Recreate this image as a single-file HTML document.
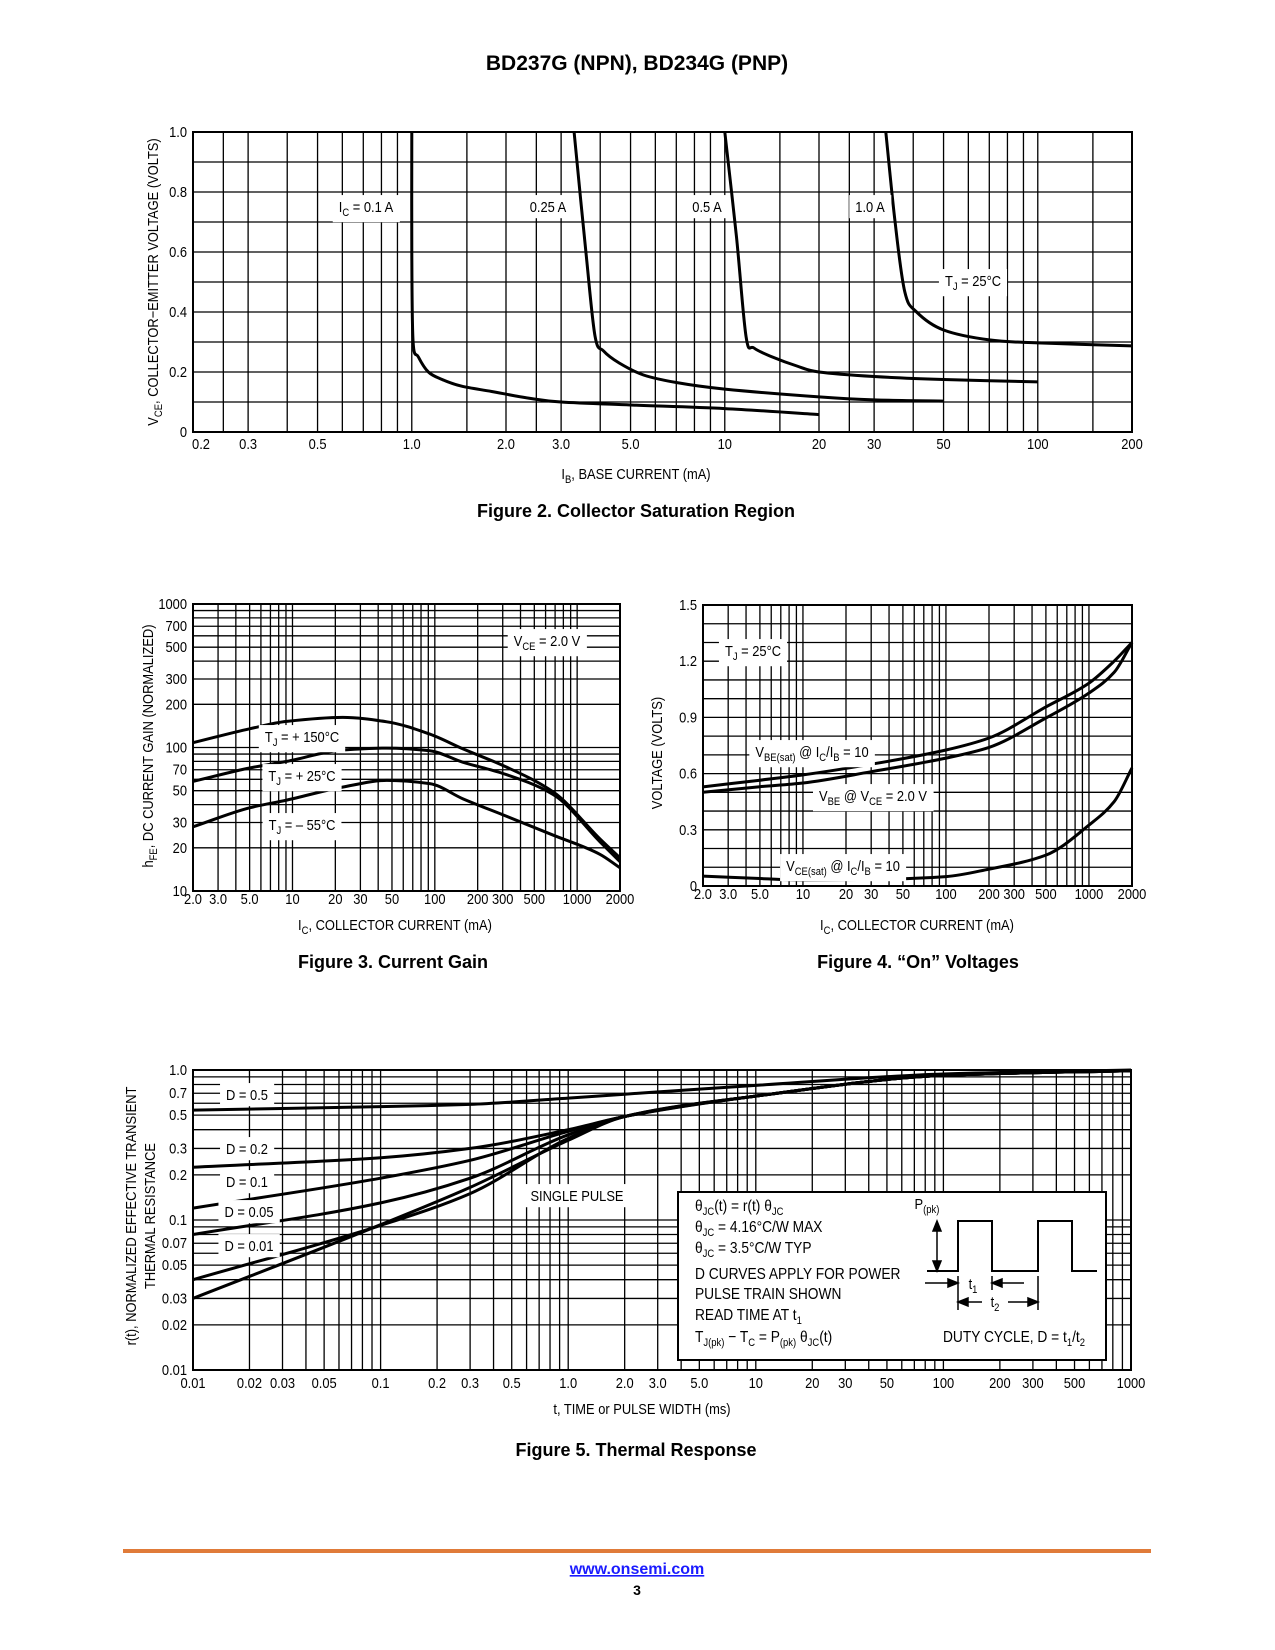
<!DOCTYPE html>
<html><head><meta charset="utf-8">
<style>
html,body{margin:0;padding:0;background:#fff;}
body{width:1275px;height:1650px;position:relative;overflow:hidden;}
svg{position:absolute;left:0;top:0;}
text{font-family:"Liberation Sans Narrow","Liberation Sans",sans-serif;fill:#000;}
.b{font-family:"Liberation Sans",sans-serif;font-weight:bold;}
</style></head>
<body>
<svg id="page" width="1275" height="1650" viewBox="0 0 1275 1650">
<text class="b" x="637" y="70" font-size="21" text-anchor="middle">BD237G (NPN), BD234G (PNP)</text>
<line x1="123" y1="1551" x2="1151" y2="1551" stroke="#e07b39" stroke-width="4"/>
<a><text class="b" x="637" y="1574" font-size="16" text-anchor="middle" fill="#1a1aff" style="fill:#1a1aff" text-decoration="underline">www.onsemi.com</text></a>
<text class="b" x="637" y="1595" font-size="14" text-anchor="middle">3</text>
</svg>
<script>
// ---------- Figure 2 data ----------
const f2XTicks=[0.2,0.3,0.5,1.0,2.0,3.0,5.0,10,20,30,50,100,200];
const f2XTickText=["0.2","0.3","0.5","1.0","2.0","3.0","5.0","10","20","30","50","100","200"];
const f2YTicks=[0,0.2,0.4,0.6,0.8,1.0];
const f2YTickText=["0","0.2","0.4","0.6","0.8","1.0"];
const f2IbA=[1.0,1.0,1.01,1.05,1.13,1.25,1.44,1.8,2.36,3,5,10,20];
const f2VA=[1.0,0.6,0.3,0.25,0.2,0.175,0.153,0.135,0.113,0.10,0.09,0.078,0.058];
const f2IbB=[3.3,3.6,3.85,4.1,4.6,5.5,7,10,20,30,50];
const f2VB=[1.0,0.6,0.32,0.27,0.23,0.19,0.165,0.143,0.117,0.107,0.103];
const f2IbC=[10,10.9,11.7,12.4,14.2,17,20,30,50,100];
const f2VC=[1.0,0.65,0.317,0.28,0.25,0.22,0.2,0.185,0.175,0.167];
const f2IbD=[32.7,35,37.6,41,50,70,100,200];
const f2VD=[1.0,0.7,0.467,0.4,0.34,0.307,0.297,0.287];
// ---------- Figure 3 data ----------
const f3XTicks=[2,3,5,10,20,30,50,100,200,300,500,1000,2000];
const f3XTickText=["2.0","3.0","5.0","10","20","30","50","100","200","300","500","1000","2000"];
const f3YTicks=[10,20,30,50,70,100,200,300,500,700,1000];
const f3YTickText=["10","20","30","50","70","100","200","300","500","700","1000"];
const f3Ic=[2,5,9.1,22.5,46,92,157,300,680,1450,2000];
const f3H150=[108,135,152,162,151,124,98,75,49,23,17];
const f3H25=[58,72,80,96,99,95,79,66,47,22,16];
const f3Hm55=[28,38,43,53,59,56,44,34,24.5,18,14.5];
// ---------- Figure 4 data ----------
const f4XTicks=[2,3,5,10,20,30,50,100,200,300,500,1000,2000];
const f4XTickText=["2.0","3.0","5.0","10","20","30","50","100","200","300","500","1000","2000"];
const f4YTicks=[0,0.3,0.6,0.9,1.2,1.5];
const f4YTickText=["0","0.3","0.6","0.9","1.2","1.5"];
const f4Ic=[2,5,10,30,100,200,500,1000,1500,2000];
const f4VbeSat=[0.529,0.565,0.593,0.65,0.726,0.79,0.956,1.083,1.2,1.30];
const f4Vbe=[0.50,0.53,0.55,0.61,0.683,0.74,0.897,1.03,1.14,1.30];
const f4VceSat=[0.053,0.04,0.032,0.035,0.05,0.09,0.165,0.325,0.45,0.63];
// ---------- Figure 5 data ----------
const f5XTicks=[0.01,0.02,0.03,0.05,0.1,0.2,0.3,0.5,1,2,3,5,10,20,30,50,100,200,300,500,1000];
const f5XTickText=["0.01","0.02","0.03","0.05","0.1","0.2","0.3","0.5","1.0","2.0","3.0","5.0","10","20","30","50","100","200","300","500","1000"];
const f5YTicks=[0.01,0.02,0.03,0.05,0.07,0.1,0.2,0.3,0.5,0.7,1.0];
const f5YTickText=["0.01","0.02","0.03","0.05","0.07","0.1","0.2","0.3","0.5","0.7","1.0"];
const f5T=[0.01,0.1,0.3,1,2,10,100,1000];
const f5D05=[0.54,0.57,0.59,0.65,0.69,0.79,0.94,1.0];
const f5D02=[0.225,0.26,0.30,0.40,0.49,0.67,0.92,0.99];
const f5D01=[0.12,0.19,0.25,0.39,0.49,0.67,0.92,0.99];
const f5D005=[0.08,0.13,0.19,0.37,0.49,0.67,0.92,0.99];
const f5D001=[0.04,0.092,0.15,0.35,0.49,0.67,0.92,0.99];
const f5Single=[0.03,0.093,0.165,0.34,0.49,0.67,0.92,0.99];

const NS="http://www.w3.org/2000/svg";
const svg=document.getElementById('page');
const SX=0.86;
function mk(tag,attrs,parent){const e=document.createElementNS(NS,tag);for(const k in attrs)e.setAttribute(k,attrs[k]);(parent||svg).appendChild(e);return e;}
function logScale(p0,p1,a,b){const la=Math.log10(a),lb=Math.log10(b);return v=>p0+(p1-p0)*(Math.log10(v)-la)/(lb-la);}
function linScale(p0,p1,a,b){return v=>p0+(p1-p0)*(v-a)/(b-a);}
function logGrid(min,max,mants){const out=[];for(let e=Math.floor(Math.log10(min))-1;e<=Math.ceil(Math.log10(max));e++){for(const m of mants){const v=parseFloat((m*Math.pow(10,e)).toPrecision(6));if(v>min*1.0001&&v<max*0.9999)out.push(v);}}return out;}
function linGrid(min,max,step){const out=[];for(let v=min+step;v<max-step/2;v+=step)out.push(v);return out;}
function catmull(pts){let d="M"+pts[0][0].toFixed(1)+" "+pts[0][1].toFixed(1);for(let i=0;i<pts.length-1;i++){const p0=pts[Math.max(0,i-1)],p1=pts[i],p2=pts[i+1],p3=pts[Math.min(pts.length-1,i+2)];const c1=[p1[0]+(p2[0]-p0[0])/6,p1[1]+(p2[1]-p0[1])/6],c2=[p2[0]-(p3[0]-p1[0])/6,p2[1]-(p3[1]-p1[1])/6];d+=" C"+c1[0].toFixed(1)+" "+c1[1].toFixed(1)+" "+c2[0].toFixed(1)+" "+c2[1].toFixed(1)+" "+p2[0].toFixed(1)+" "+p2[1].toFixed(1);}return d;}
function monotone(pts){const n=pts.length;const dl=[];for(let i=0;i<n-1;i++)dl.push((pts[i+1][1]-pts[i][1])/(pts[i+1][0]-pts[i][0]));
const m=[dl[0]];for(let i=1;i<n-1;i++){if(dl[i-1]*dl[i]<=0)m.push(0);else{const h0=pts[i][0]-pts[i-1][0],h1=pts[i+1][0]-pts[i][0];const w1=2*h1+h0,w2=h1+2*h0;m.push((w1+w2)/(w1/dl[i-1]+w2/dl[i]));}}m.push(dl[n-2]);
let d="M"+pts[0][0].toFixed(1)+" "+pts[0][1].toFixed(1);for(let i=0;i<n-1;i++){const h=(pts[i+1][0]-pts[i][0])/3;d+=" C"+(pts[i][0]+h).toFixed(1)+" "+(pts[i][1]+m[i]*h).toFixed(1)+" "+(pts[i+1][0]-h).toFixed(1)+" "+(pts[i+1][1]-m[i+1]*h).toFixed(1)+" "+pts[i+1][0].toFixed(1)+" "+pts[i+1][1].toFixed(1);}return d;}
function sub(a){return '<tspan dy="4" font-size="11">'+a+'</tspan><tspan dy="-4">';}
function squeeze(x,y){return 'translate('+x+' '+y+') scale('+SX+' 1) translate('+(-x)+' '+(-y)+')';}
function txt(g,x,y,html,anchor,size){const t=mk('text',{x:x,y:y,'text-anchor':anchor||'middle','font-size':size||15,transform:squeeze(x,y)},g);t.innerHTML=html;return t;}
function vtxt(g,x,y,html){const t=mk('text',{x:x,y:y,'text-anchor':'middle','font-size':15,transform:'rotate(-90 '+x+' '+y+') '+squeeze(x,y)},g);t.innerHTML=html;return t;}
function boxLabel(g,x,y,html,name){const r=mk('rect',{fill:'#fff',transform:squeeze(x,y)},g);

const t=txt(g,x,y,html,'middle',15);

const bb=t.getBBox();r.setAttribute('x',bb.x-7);r.setAttribute('y',bb.y-3);r.setAttribute('width',bb.width+14);r.setAttribute('height',bb.height+6);return t;}

function drawChart(cfg){
  const g=mk('g',{});
  
  const gg=mk('g',{stroke:'#000','stroke-width':1.3},g);
  
  for(const v of cfg.xGrid){const x=cfg.sx(v);mk('line',{x1:x,x2:x,y1:cfg.T,y2:cfg.B},gg);}
  for(const v of cfg.yGrid){const y=cfg.sy(v);mk('line',{x1:cfg.L,x2:cfg.R,y1:y,y2:y},gg);}
  const fr=mk('rect',{x:cfg.L,y:cfg.T,width:cfg.R-cfg.L,height:cfg.B-cfg.T,fill:'none',stroke:'#000','stroke-width':2},g);
  
  
  const xg=mk('g',{},g);
  
  cfg.xTicks.forEach((v,i)=>{let x=cfg.sx(v);if(i===0&&cfg.xFirstShift)x+=cfg.xFirstShift;const t=txt(xg,x,cfg.B+cfg.xLabDy,cfg.xText[i],'middle',15);});
  const yg=mk('g',{},g);
  
  cfg.yTicks.forEach((v,i)=>{const t=txt(yg,cfg.L-6,cfg.sy(v)+5,cfg.yText[i],'end',15);});
  const sg=mk('g',{fill:'none',stroke:'#000','stroke-width':3,'stroke-linejoin':'round'},g);
  
  
  cfg.series.forEach(s=>{const pts=s.x.map((xv,i)=>[cfg.sx(xv),cfg.sy(s.y[i])]);const p=mk('path',{d:cfg.smooth==='cat'?catmull(pts):monotone(pts)},sg);
  });
  return g;
}

// ===== Figure 2 =====
{const L=193,R=1132,T=132,B=432;
const sx=logScale(L,R,0.2,200),sy=linScale(B,T,0,1);
const g=drawChart({name:'figure-2-chart',smooth:'cat',L,R,T,B,sx,sy,xGrid:logGrid(0.2,200,[1,1.5,2,2.5,3,4,5,6,7,8,9]),yGrid:linGrid(0,1,0.1),
xTicks:f2XTicks,xText:f2XTickText,xLabDy:17,xFirstShift:8,yTicks:f2YTicks,yText:f2YTickText,
series:[{name:'curve-ic-0.1a',x:f2IbA,y:f2VA},{name:'curve-ic-0.25a',x:f2IbB,y:f2VB},{name:'curve-ic-0.5a',x:f2IbC,y:f2VC},{name:'curve-ic-1.0a',x:f2IbD,y:f2VD}]});
boxLabel(g,366,212,'I'+sub('C')+' = 0.1 A</tspan>','label-ic-0.1a');
boxLabel(g,548,212,'0.25 A','label-ic-0.25a');
boxLabel(g,707,212,'0.5 A','label-ic-0.5a');
boxLabel(g,870,212,'1.0 A','label-ic-1.0a');
boxLabel(g,973,286,'T'+sub('J')+' = 25°C</tspan>','label-tj-25c');
let t=txt(g,636,479,'I'+sub('B')+', BASE CURRENT (mA)</tspan>','middle',15);
t=vtxt(g,158,282,'V'+sub('CE')+', COLLECTOR−EMITTER VOLTAGE (VOLTS)</tspan>');
t=mk('text',{x:636,y:517,'text-anchor':'middle','font-size':18,class:'b'},g);t.textContent='Figure 2. Collector Saturation Region';}

// ===== Figure 3 =====
{const L=193,R=620,T=604,B=891;
const sx=logScale(L,R,2,2000),sy=logScale(B,T,10,1000);
const g=drawChart({name:'figure-3-chart',L,R,T,B,sx,sy,xGrid:logGrid(2,2000,[1,2,3,4,5,6,7,8,9]),yGrid:logGrid(10,1000,[1,2,3,4,5,6,7,8,9]),
xTicks:f3XTicks,xText:f3XTickText,xLabDy:13,xFirstShift:0,yTicks:f3YTicks,yText:f3YTickText,
series:[{name:'curve-tj-150c',x:f3Ic,y:f3H150},{name:'curve-tj-25c',x:f3Ic,y:f3H25},{name:'curve-tj-minus55c',x:f3Ic,y:f3Hm55}]});
boxLabel(g,302,742,'T'+sub('J')+' = + 150°C</tspan>','label-tj-150c');
boxLabel(g,302,781,'T'+sub('J')+' = + 25°C</tspan>','label-tj-25c');
boxLabel(g,302,830,'T'+sub('J')+' = – 55°C</tspan>','label-tj-minus55c');
boxLabel(g,547,646,'V'+sub('CE')+' = 2.0 V</tspan>','label-vce-2v');
let t=txt(g,395,930,'I'+sub('C')+', COLLECTOR CURRENT (mA)</tspan>','middle',15);
t=vtxt(g,153,746,'h'+sub('FE')+', DC CURRENT GAIN (NORMALIZED)</tspan>');
t=mk('text',{x:393,y:968,'text-anchor':'middle','font-size':18,class:'b'},g);t.textContent='Figure 3. Current Gain';}

// ===== Figure 4 =====
{const L=703,R=1132,T=605,B=886;
const sx=logScale(L,R,2,2000),sy=linScale(B,T,0,1.5);
const g=drawChart({name:'figure-4-chart',L,R,T,B,sx,sy,xGrid:logGrid(2,2000,[1,2,3,4,5,6,7,8,9]),yGrid:linGrid(0,1.5,0.1),
xTicks:f4XTicks,xText:f4XTickText,xLabDy:13,xFirstShift:0,yTicks:f4YTicks,yText:f4YTickText,
series:[{name:'curve-vbe-sat',x:f4Ic,y:f4VbeSat},{name:'curve-vbe',x:f4Ic,y:f4Vbe},{name:'curve-vce-sat',x:f4Ic,y:f4VceSat}]});
boxLabel(g,753,656,'T'+sub('J')+' = 25°C</tspan>','label-tj-25c');
boxLabel(g,812,757,'V'+sub('BE(sat)')+' @ I</tspan>'+sub('C')+'/I</tspan>'+sub('B')+' = 10</tspan>','label-vbe-sat');
boxLabel(g,873,801,'V'+sub('BE')+' @ V</tspan>'+sub('CE')+' = 2.0 V</tspan>','label-vbe');
boxLabel(g,843,871,'V'+sub('CE(sat)')+' @ I</tspan>'+sub('C')+'/I</tspan>'+sub('B')+' = 10</tspan>','label-vce-sat');
let t=txt(g,917,930,'I'+sub('C')+', COLLECTOR CURRENT (mA)</tspan>','middle',15);
t=vtxt(g,662,753,'VOLTAGE (VOLTS)');
t=mk('text',{x:918,y:968,'text-anchor':'middle','font-size':18,class:'b'},g);t.textContent='Figure 4. “On” Voltages';}

// ===== Figure 5 =====
{const L=193,R=1131,T=1070,B=1370;
const sx=logScale(L,R,0.01,1000),sy=logScale(B,T,0.01,1.0);
const g=drawChart({name:'figure-5-chart',L,R,T,B,sx,sy,xGrid:logGrid(0.01,1000,[1,2,3,4,5,6,7,8,9]),yGrid:logGrid(0.01,1.0,[1,2,3,4,5,6,7,8,9]),
xTicks:f5XTicks,xText:f5XTickText,xLabDy:18,xFirstShift:0,yTicks:f5YTicks,yText:f5YTickText,
series:[{name:'curve-d-0.5',x:f5T,y:f5D05},{name:'curve-d-0.2',x:f5T,y:f5D02},{name:'curve-d-0.1',x:f5T,y:f5D01},{name:'curve-d-0.05',x:f5T,y:f5D005},{name:'curve-d-0.01',x:f5T,y:f5D001},{name:'curve-single-pulse',x:f5T,y:f5Single}]});
boxLabel(g,247,1100,'D = 0.5','label-d-0.5');
boxLabel(g,247,1154,'D = 0.2','label-d-0.2');
boxLabel(g,247,1187,'D = 0.1','label-d-0.1');
boxLabel(g,249,1217,'D = 0.05','label-d-0.05');
boxLabel(g,249,1251,'D = 0.01','label-d-0.01');
boxLabel(g,577,1201,'SINGLE PULSE','label-single-pulse');
const bx=mk('g',{},g);

const br=mk('rect',{x:678,y:1192,width:428,height:168,fill:'#fff',stroke:'#000','stroke-width':2},bx);
const lines=['θ'+sub('JC')+'(t) = r(t) θ</tspan>'+sub('JC')+'</tspan>','θ'+sub('JC')+' = 4.16°C/W MAX</tspan>','θ'+sub('JC')+' = 3.5°C/W TYP</tspan>','D CURVES APPLY FOR POWER','PULSE TRAIN SHOWN','READ TIME AT t'+sub('1')+'</tspan>','T'+sub('J(pk)')+' − T</tspan>'+sub('C')+' = P</tspan>'+sub('(pk)')+' θ</tspan>'+sub('JC')+'(t)</tspan>'];
const ly=[1211,1232,1253,1279,1299,1320,1342];
lines.forEach((s,i)=>{const t=txt(bx,695,ly[i],s,'start',16);});
let t=txt(bx,927,1209,'P'+sub('(pk)')+'</tspan>','middle',15);
const w=mk('path',{d:'M927 1271 H958 V1221 H992 V1271 H1038 V1221 H1072 V1271 H1097',fill:'none',stroke:'#000','stroke-width':2},bx);
const ar=mk('g',{stroke:'#000','stroke-width':1.5,fill:'#000'},bx);
mk('line',{x1:937,y1:1224,x2:937,y2:1268},ar);mk('path',{d:'M937 1221 l-4 10 h8z'},ar);mk('path',{d:'M937 1271 l-4 -10 h8z'},ar);
mk('line',{x1:925,y1:1283,x2:955,y2:1283},ar);mk('path',{d:'M958 1283 l-10 -4 v8z'},ar);
mk('line',{x1:995,y1:1283,x2:1024,y2:1283},ar);mk('path',{d:'M992 1283 l10 -4 v8z'},ar);
mk('line',{x1:958,y1:1276,x2:958,y2:1310},ar);mk('line',{x1:992,y1:1276,x2:992,y2:1290},ar);mk('line',{x1:1038,y1:1276,x2:1038,y2:1310},ar);
mk('line',{x1:961,y1:1302,x2:982,y2:1302},ar);mk('path',{d:'M958 1302 l10 -4 v8z'},ar);
mk('line',{x1:1008,y1:1302,x2:1035,y2:1302},ar);mk('path',{d:'M1038 1302 l-10 -4 v8z'},ar);
t=txt(bx,973,1289,'t'+sub('1')+'</tspan>','middle',15);
t=txt(bx,995,1307,'t'+sub('2')+'</tspan>','middle',15);
t=txt(bx,1014,1342,'DUTY CYCLE, D = t'+sub('1')+'/t</tspan>'+sub('2')+'</tspan>','middle',16);
t=txt(g,642,1414,'t, TIME or PULSE WIDTH (ms)','middle',15);
t=vtxt(g,136,1216,'r(t), NORMALIZED EFFECTIVE TRANSIENT');
t=vtxt(g,155,1216,'THERMAL RESISTANCE');
t=mk('text',{x:636,y:1456,'text-anchor':'middle','font-size':18,class:'b'},g);t.textContent='Figure 5. Thermal Response';}
</script>
</body></html>
